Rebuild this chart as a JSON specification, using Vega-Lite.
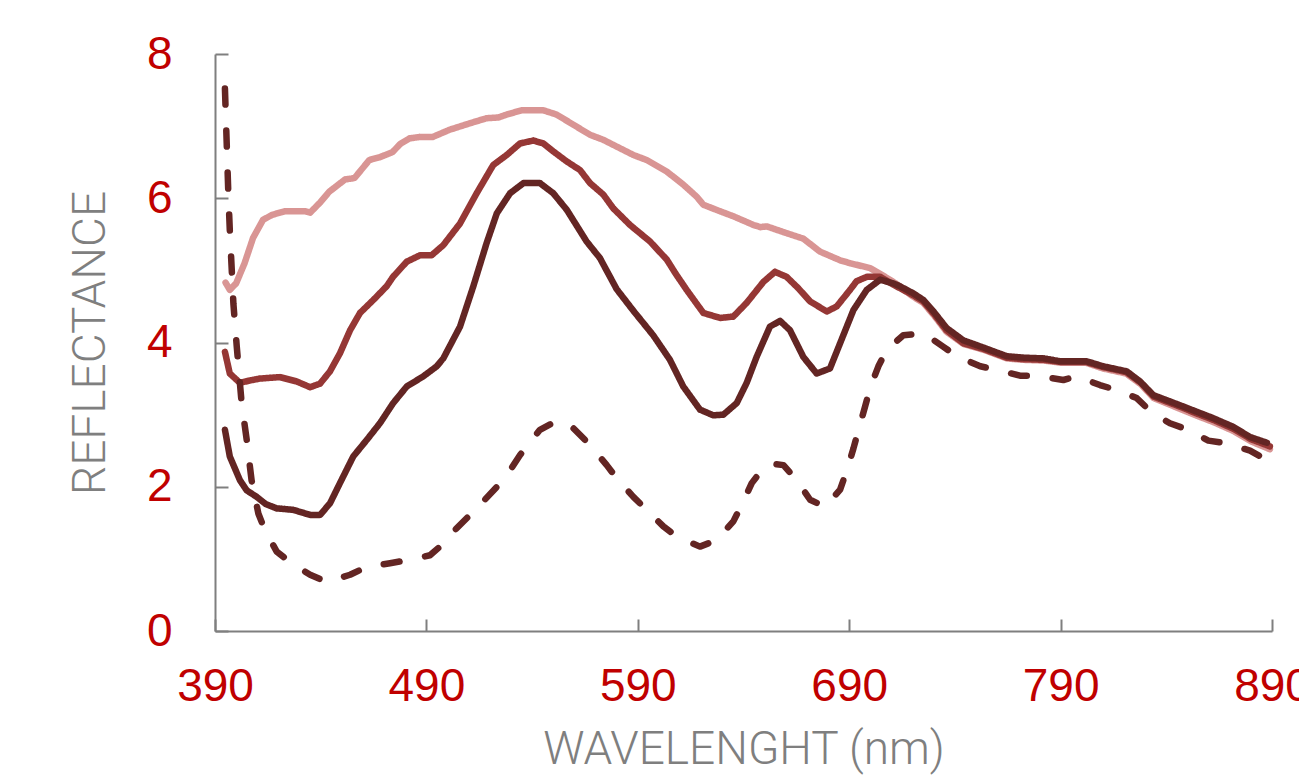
{
  "$schema": "https://vega.github.io/schema/vega-lite/v6.json",
  "width": 1057,
  "height": 577,
  "autosize": {"type": "none"},
  "padding": {"left": 215, "top": 54, "right": 27, "bottom": 150},
  "background": "white",
  "config": {
    "view": {"stroke": null},
    "axis": {
      "grid": false,
      "domainColor": "#7f7f7f", "domainWidth": 2,
      "tickColor": "#7f7f7f", "tickWidth": 2,
      "labelFont": "Liberation Sans", "labelFontSize": 46, "labelColor": "#C00000",
      "labelFlush": false, "labelOverlap": false,
      "titleFont": "Roboto", "titleFontSize": 46, "titleFontWeight": 300, "titleColor": "#7f7f7f"
    }
  },
  "data": {"values": [
{"s":"A","wl":395,"r":4.83},{"s":"A","wl":397,"r":4.73},{"s":"A","wl":400,"r":4.82},{"s":"A","wl":404,"r":5.1},{"s":"A","wl":408,"r":5.45},{"s":"A","wl":412.7,"r":5.7},{"s":"A","wl":417,"r":5.77},{"s":"A","wl":423,"r":5.82},{"s":"A","wl":432.6,"r":5.82},{"s":"A","wl":435,"r":5.8},{"s":"A","wl":440,"r":5.95},{"s":"A","wl":444,"r":6.09},{"s":"A","wl":451.5,"r":6.26},{"s":"A","wl":456,"r":6.28},{"s":"A","wl":463,"r":6.53},{"s":"A","wl":468,"r":6.57},{"s":"A","wl":474,"r":6.64},{"s":"A","wl":477.5,"r":6.75},{"s":"A","wl":482,"r":6.83},{"s":"A","wl":487,"r":6.85},{"s":"A","wl":493,"r":6.85},{"s":"A","wl":501,"r":6.95},{"s":"A","wl":510.6,"r":7.04},{"s":"A","wl":518.5,"r":7.11},{"s":"A","wl":524,"r":7.12},{"s":"A","wl":528,"r":7.16},{"s":"A","wl":535,"r":7.22},{"s":"A","wl":545.3,"r":7.22},{"s":"A","wl":551.6,"r":7.16},{"s":"A","wl":559.5,"r":7.02},{"s":"A","wl":567.4,"r":6.88},{"s":"A","wl":573.7,"r":6.81},{"s":"A","wl":578.4,"r":6.74},{"s":"A","wl":587.9,"r":6.6},{"s":"A","wl":594.2,"r":6.53},{"s":"A","wl":603.7,"r":6.37},{"s":"A","wl":611.5,"r":6.19},{"s":"A","wl":617.9,"r":6.02},{"s":"A","wl":621,"r":5.91},{"s":"A","wl":628,"r":5.83},{"s":"A","wl":635.2,"r":5.75},{"s":"A","wl":644.7,"r":5.63},{"s":"A","wl":648,"r":5.6},{"s":"A","wl":651,"r":5.61},{"s":"A","wl":660,"r":5.52},{"s":"A","wl":668.3,"r":5.44},{"s":"A","wl":676.2,"r":5.26},{"s":"A","wl":685.7,"r":5.14},{"s":"A","wl":690.4,"r":5.1},{"s":"A","wl":700,"r":5.03},{"s":"A","wl":707,"r":4.91},{"s":"A","wl":712,"r":4.82},{"s":"A","wl":720,"r":4.64},{"s":"A","wl":725,"r":4.55},{"s":"A","wl":730,"r":4.38},{"s":"A","wl":736,"r":4.15},{"s":"A","wl":744,"r":3.98},{"s":"A","wl":753.5,"r":3.9},{"s":"A","wl":764.5,"r":3.78},{"s":"A","wl":772,"r":3.76},{"s":"A","wl":782,"r":3.75},{"s":"A","wl":790,"r":3.72},{"s":"A","wl":802,"r":3.72},{"s":"A","wl":810,"r":3.64},{"s":"A","wl":821,"r":3.57},{"s":"A","wl":828,"r":3.42},{"s":"A","wl":834,"r":3.23},{"s":"A","wl":846.5,"r":3.08},{"s":"A","wl":854,"r":2.99},{"s":"A","wl":862,"r":2.9},{"s":"A","wl":872,"r":2.77},{"s":"A","wl":880,"r":2.63},{"s":"A","wl":889,"r":2.52},
{"s":"B","wl":394.7,"r":3.87},{"s":"B","wl":397,"r":3.57},{"s":"B","wl":401.8,"r":3.44},{"s":"B","wl":406,"r":3.47},{"s":"B","wl":411.3,"r":3.5},{"s":"B","wl":420.7,"r":3.52},{"s":"B","wl":428.6,"r":3.46},{"s":"B","wl":435,"r":3.38},{"s":"B","wl":439.7,"r":3.43},{"s":"B","wl":444.4,"r":3.6},{"s":"B","wl":449.1,"r":3.85},{"s":"B","wl":453.9,"r":4.17},{"s":"B","wl":458.6,"r":4.41},{"s":"B","wl":464.9,"r":4.59},{"s":"B","wl":471.2,"r":4.78},{"s":"B","wl":474.2,"r":4.91},{"s":"B","wl":480.7,"r":5.12},{"s":"B","wl":487,"r":5.21},{"s":"B","wl":492.5,"r":5.21},{"s":"B","wl":498,"r":5.35},{"s":"B","wl":505.9,"r":5.65},{"s":"B","wl":513.8,"r":6.07},{"s":"B","wl":521.6,"r":6.46},{"s":"B","wl":528,"r":6.6},{"s":"B","wl":534.3,"r":6.76},{"s":"B","wl":540.6,"r":6.8},{"s":"B","wl":545.3,"r":6.76},{"s":"B","wl":550,"r":6.65},{"s":"B","wl":556.4,"r":6.51},{"s":"B","wl":562.7,"r":6.39},{"s":"B","wl":567.4,"r":6.21},{"s":"B","wl":573.7,"r":6.05},{"s":"B","wl":578.4,"r":5.86},{"s":"B","wl":586.3,"r":5.63},{"s":"B","wl":595.8,"r":5.4},{"s":"B","wl":603.7,"r":5.15},{"s":"B","wl":608,"r":4.95},{"s":"B","wl":613.1,"r":4.73},{"s":"B","wl":621,"r":4.41},{"s":"B","wl":629,"r":4.34},{"s":"B","wl":635.2,"r":4.36},{"s":"B","wl":641.5,"r":4.55},{"s":"B","wl":649.4,"r":4.84},{"s":"B","wl":654.9,"r":4.98},{"s":"B","wl":660.4,"r":4.91},{"s":"B","wl":666,"r":4.75},{"s":"B","wl":671.5,"r":4.57},{"s":"B","wl":679.4,"r":4.43},{"s":"B","wl":684.1,"r":4.5},{"s":"B","wl":690.4,"r":4.73},{"s":"B","wl":693.5,"r":4.85},{"s":"B","wl":698.3,"r":4.91},{"s":"B","wl":704.6,"r":4.91},{"s":"B","wl":711,"r":4.8},{"s":"B","wl":720,"r":4.66},{"s":"B","wl":725,"r":4.57},{"s":"B","wl":730,"r":4.4},{"s":"B","wl":736,"r":4.17},{"s":"B","wl":744,"r":3.99},{"s":"B","wl":753.5,"r":3.91},{"s":"B","wl":764.5,"r":3.79},{"s":"B","wl":772,"r":3.77},{"s":"B","wl":782,"r":3.76},{"s":"B","wl":790,"r":3.73},{"s":"B","wl":802,"r":3.73},{"s":"B","wl":810,"r":3.66},{"s":"B","wl":821,"r":3.59},{"s":"B","wl":828,"r":3.44},{"s":"B","wl":834,"r":3.25},{"s":"B","wl":846.5,"r":3.11},{"s":"B","wl":854,"r":3.02},{"s":"B","wl":862,"r":2.93},{"s":"B","wl":872,"r":2.8},{"s":"B","wl":880,"r":2.66},{"s":"B","wl":889,"r":2.56},
{"s":"C","wl":394.7,"r":2.79},{"s":"C","wl":397,"r":2.42},{"s":"C","wl":401.8,"r":2.09},{"s":"C","wl":405,"r":1.95},{"s":"C","wl":409.7,"r":1.86},{"s":"C","wl":414,"r":1.76},{"s":"C","wl":419.2,"r":1.7},{"s":"C","wl":427,"r":1.68},{"s":"C","wl":435,"r":1.61},{"s":"C","wl":439.7,"r":1.61},{"s":"C","wl":444.4,"r":1.77},{"s":"C","wl":449.1,"r":2.05},{"s":"C","wl":455.4,"r":2.42},{"s":"C","wl":461.8,"r":2.65},{"s":"C","wl":468,"r":2.88},{"s":"C","wl":474.3,"r":3.16},{"s":"C","wl":480.7,"r":3.39},{"s":"C","wl":488.5,"r":3.53},{"s":"C","wl":494.9,"r":3.67},{"s":"C","wl":498,"r":3.78},{"s":"C","wl":505.9,"r":4.22},{"s":"C","wl":512.2,"r":4.78},{"s":"C","wl":518.5,"r":5.38},{"s":"C","wl":523.3,"r":5.79},{"s":"C","wl":529.6,"r":6.07},{"s":"C","wl":535.9,"r":6.21},{"s":"C","wl":543.7,"r":6.21},{"s":"C","wl":550,"r":6.07},{"s":"C","wl":556.4,"r":5.84},{"s":"C","wl":565.8,"r":5.4},{"s":"C","wl":572.1,"r":5.17},{"s":"C","wl":580,"r":4.74},{"s":"C","wl":587.9,"r":4.44},{"s":"C","wl":597.3,"r":4.1},{"s":"C","wl":605.2,"r":3.76},{"s":"C","wl":611.5,"r":3.39},{"s":"C","wl":619.4,"r":3.07},{"s":"C","wl":625.7,"r":2.99},{"s":"C","wl":630.5,"r":3.0},{"s":"C","wl":636.8,"r":3.16},{"s":"C","wl":641.5,"r":3.44},{"s":"C","wl":646.2,"r":3.8},{"s":"C","wl":652.5,"r":4.22},{"s":"C","wl":657.3,"r":4.3},{"s":"C","wl":662,"r":4.17},{"s":"C","wl":668.3,"r":3.8},{"s":"C","wl":674.6,"r":3.57},{"s":"C","wl":680.9,"r":3.64},{"s":"C","wl":685.7,"r":3.99},{"s":"C","wl":692,"r":4.45},{"s":"C","wl":698.3,"r":4.73},{"s":"C","wl":704.6,"r":4.87},{"s":"C","wl":710.9,"r":4.82},{"s":"C","wl":714,"r":4.78},{"s":"C","wl":720.4,"r":4.68},{"s":"C","wl":725.1,"r":4.59},{"s":"C","wl":729.9,"r":4.43},{"s":"C","wl":736.1,"r":4.2},{"s":"C","wl":744,"r":4.03},{"s":"C","wl":753.5,"r":3.93},{"s":"C","wl":764.5,"r":3.81},{"s":"C","wl":772.4,"r":3.79},{"s":"C","wl":781.8,"r":3.78},{"s":"C","wl":789.7,"r":3.74},{"s":"C","wl":802.3,"r":3.74},{"s":"C","wl":810.2,"r":3.67},{"s":"C","wl":821.3,"r":3.6},{"s":"C","wl":827.6,"r":3.46},{"s":"C","wl":833.9,"r":3.27},{"s":"C","wl":846.5,"r":3.13},{"s":"C","wl":854.4,"r":3.04},{"s":"C","wl":862.3,"r":2.95},{"s":"C","wl":871.7,"r":2.83},{"s":"C","wl":879.6,"r":2.69},{"s":"C","wl":887.6,"r":2.61},
{"s":"D","wl":394.7,"r":7.52},{"s":"D","wl":396.3,"r":6.07},{"s":"D","wl":397,"r":5.56},{"s":"D","wl":398.7,"r":4.54},{"s":"D","wl":400.3,"r":3.94},{"s":"D","wl":402.6,"r":3.16},{"s":"D","wl":405,"r":2.65},{"s":"D","wl":407.3,"r":2.09},{"s":"D","wl":410.5,"r":1.63},{"s":"D","wl":413.6,"r":1.4},{"s":"D","wl":419.2,"r":1.1},{"s":"D","wl":426.3,"r":0.94},{"s":"D","wl":435,"r":0.78},{"s":"D","wl":442.8,"r":0.68},{"s":"D","wl":453.9,"r":0.78},{"s":"D","wl":461.8,"r":0.89},{"s":"D","wl":472.8,"r":0.94},{"s":"D","wl":480.7,"r":0.98},{"s":"D","wl":491.7,"r":1.05},{"s":"D","wl":496.4,"r":1.17},{"s":"D","wl":503.5,"r":1.4},{"s":"D","wl":515.4,"r":1.75},{"s":"D","wl":527.2,"r":2.12},{"s":"D","wl":534.3,"r":2.44},{"s":"D","wl":543.7,"r":2.79},{"s":"D","wl":550.8,"r":2.9},{"s":"D","wl":557.9,"r":2.86},{"s":"D","wl":566,"r":2.62},{"s":"D","wl":575.3,"r":2.3},{"s":"D","wl":580.8,"r":2.09},{"s":"D","wl":587.9,"r":1.86},{"s":"D","wl":594.2,"r":1.68},{"s":"D","wl":602.1,"r":1.45},{"s":"D","wl":608.4,"r":1.31},{"s":"D","wl":619.4,"r":1.17},{"s":"D","wl":627.3,"r":1.26},{"s":"D","wl":635.2,"r":1.52},{"s":"D","wl":639.2,"r":1.75},{"s":"D","wl":643.9,"r":2.05},{"s":"D","wl":649.4,"r":2.26},{"s":"D","wl":653,"r":2.32},{"s":"D","wl":658.9,"r":2.3},{"s":"D","wl":665.2,"r":2.09},{"s":"D","wl":671.5,"r":1.82},{"s":"D","wl":678.6,"r":1.72},{"s":"D","wl":685.7,"r":1.96},{"s":"D","wl":688.9,"r":2.23},{"s":"D","wl":692,"r":2.53},{"s":"D","wl":694.4,"r":2.79},{"s":"D","wl":697.5,"r":3.11},{"s":"D","wl":699.9,"r":3.37},{"s":"D","wl":703.8,"r":3.67},{"s":"D","wl":707.8,"r":3.9},{"s":"D","wl":715.6,"r":4.1},{"s":"D","wl":725.1,"r":4.13},{"s":"D","wl":734.6,"r":3.94},{"s":"D","wl":740.9,"r":3.81},{"s":"D","wl":752,"r":3.67},{"s":"D","wl":759.9,"r":3.62},{"s":"D","wl":770.8,"r":3.54},{"s":"D","wl":778.7,"r":3.54},{"s":"D","wl":791.3,"r":3.48},{"s":"D","wl":797.6,"r":3.53},{"s":"D","wl":808.6,"r":3.41},{"s":"D","wl":816.5,"r":3.34},{"s":"D","wl":826,"r":3.23},{"s":"D","wl":833.1,"r":3.03},{"s":"D","wl":841.7,"r":2.88},{"s":"D","wl":850.4,"r":2.79},{"s":"D","wl":859.9,"r":2.64},{"s":"D","wl":868.6,"r":2.6},{"s":"D","wl":879.6,"r":2.5},{"s":"D","wl":887.6,"r":2.37}
  ]},
  "mark": {"type": "line", "strokeWidth": 6.5, "strokeCap": "round", "strokeJoin": "round"},
  "encoding": {
    "x": {"field": "wl", "type": "quantitative",
      "scale": {"domain": [390, 890], "nice": false, "zero": false},
      "axis": {"values": [390, 490, 590, 690, 790, 890], "format": "d", "tickSize": -12, "labelPadding": 45, "title": "WAVELENGHT (nm)", "titlePadding": 18}},
    "y": {"field": "r", "type": "quantitative",
      "scale": {"domain": [0, 8], "nice": false},
      "axis": {"values": [0, 2, 4, 6, 8], "format": "d", "tickSize": -13, "labelPadding": 56, "title": "REFLECTANCE", "titlePadding": 32}},
    "color": {"field": "s", "type": "nominal", "legend": null,
      "scale": {"domain": ["A", "B", "C", "D"], "range": ["#D99594", "#953735", "#632523", "#632523"]}},
    "strokeDash": {"field": "s", "type": "nominal", "legend": null,
      "scale": {"domain": ["A", "B", "C", "D"], "range": [[1, 0], [1, 0], [1, 0], [16, 26]]}}
  }
}
